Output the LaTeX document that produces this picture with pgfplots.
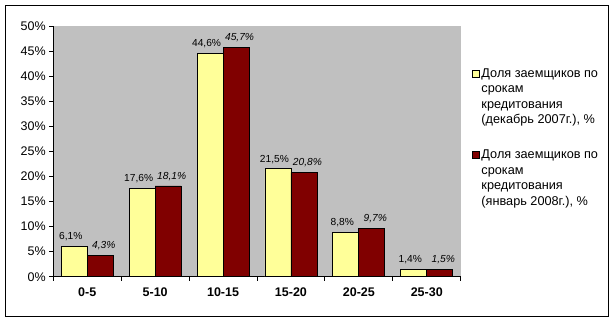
\documentclass[border=0pt]{standalone}
\usepackage{fontspec}
\setmainfont{Liberation Sans}
\usepackage{pgfplots}
\pgfplotsset{compat=1.18}
\definecolor{plotgray}{HTML}{C0C0C0}
\definecolor{barY}{HTML}{FFFF99}
\definecolor{barR}{HTML}{800000}
\begin{document}
\begin{tikzpicture}
\path[use as bounding box] (0,0) rectangle (615pt,323pt);
\draw[line width=1pt] (5.5pt,6pt) rectangle (608pt,317pt);
\begin{axis}[
  at={(53.3pt,46.3pt)}, anchor=south west,
  width=407.4pt, height=250.7pt, scale only axis,
  axis background/.style={fill=plotgray},
  axis x line=bottom, axis y line=left,
  axis line style={-, black, line width=0.8pt},
  xmin=-0.5, xmax=5.5, ymin=0, ymax=50,
  xtick={-0.5,0.5,...,5.5},
  xticklabels={0-5,5-10,10-15,15-20,20-25,25-30},
  x tick label as interval,
  ytick={0,5,...,50},
  yticklabel={\pgfmathprintnumber{\tick}\%},
  /pgf/number format/assume math mode=true,
  tick align=outside, major tick length=4pt,
  tick style={black, line width=0.8pt},
  xticklabel style={font=\fontsize{12.5}{15}\selectfont\bfseries, yshift=-4pt},
  yticklabel style={font=\fontsize{12.5}{15}\selectfont},
  ybar=0pt, bar width=0.383,
  nodes near coords={\pgfmathprintnumber[assume math mode=true,fixed,fixed zerofill,precision=1,use comma]{\pgfplotspointmeta}\%},
  every node near coord/.append style={black, font=\fontsize{10.2}{12}\selectfont, inner sep=2pt, yshift=3pt},
  legend image code/.code={\draw[#1,draw=black,line width=0.6pt] (0pt,0pt) rectangle (7pt,7pt);},
  legend style={at={(1,1)}, anchor=north west, xshift=8pt, yshift=-36pt,
    draw=none, fill=none, font=\fontsize{12.7}{15.6}\selectfont,
    row sep=65pt, cells={anchor=base west}},
]
\addplot[fill=barY, draw=black, line width=0.8pt, every node near coord/.append style={xshift=-3.5pt}] coordinates {(0,6.1) (1,17.6) (2,44.6) (3,21.5) (4,8.8) (5,1.4)};
\addlegendentry{\begin{tabular}[t]{@{}l@{}}Доля заемщиков по\\срокам\\кредитования\\(декабрь 2007г.), \%\end{tabular}}
\addplot[fill=barR, draw=black, line width=0.8pt, every node near coord/.append style={xshift=3.5pt, font=\fontsize{10.2}{12}\selectfont\itshape}] coordinates {(0,4.3) (1,18.1) (2,45.7) (3,20.8) (4,9.7) (5,1.5)};
\addlegendentry{\begin{tabular}[t]{@{}l@{}}Доля заемщиков по\\срокам\\кредитования\\(январь 2008г.), \%\end{tabular}}
\end{axis}
\end{tikzpicture}
\end{document}
